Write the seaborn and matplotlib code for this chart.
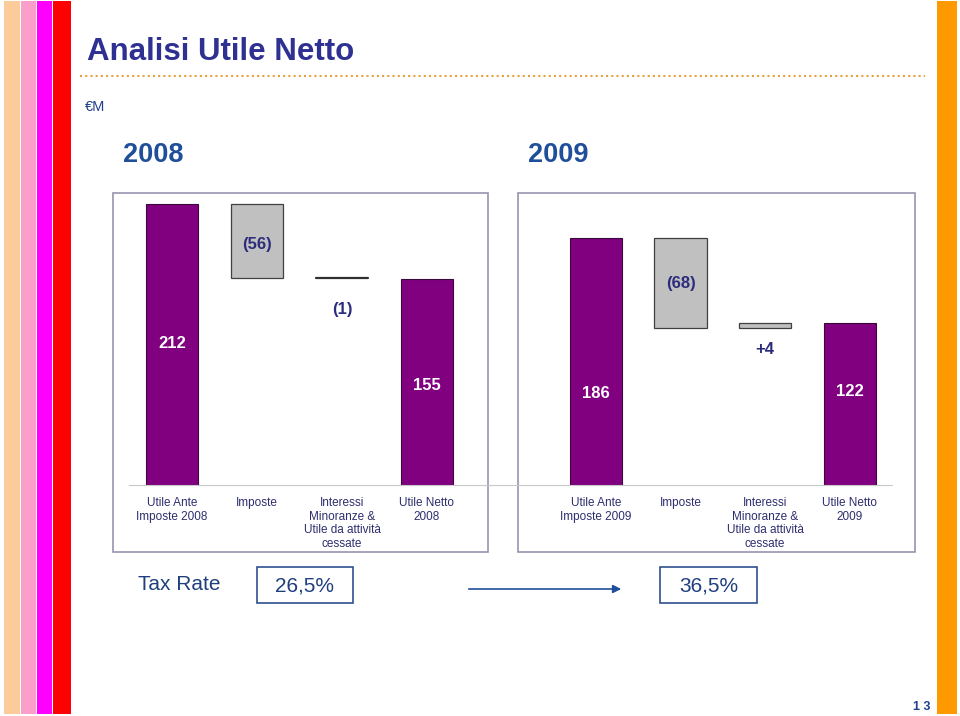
import matplotlib
matplotlib.use("Agg")
import matplotlib.pyplot as plt
from matplotlib.patches import Rectangle, FancyArrowPatch
from matplotlib.lines import Line2D
import seaborn as sns
import pandas as pd
import numpy as np

sns.set_theme(style="white")
plt.rcParams['font.family'] = ['Liberation Sans', 'DejaVu Sans']

# ---- data ----
cats_2008 = ["Utile Ante\nImposte 2008", "Imposte",
             "Interessi\nMinoranze &\nUtile da attività\ncessate", "Utile Netto\n2008"]
cats_2009 = ["Utile Ante\nImposte 2009", "Imposte",
             "Interessi\nMinoranze &\nUtile da attività\ncessate", "Utile Netto\n2009"]
values_2008 = [212, -56, -1, 155]
values_2009 = [186, -68, 4, 122]
labels_2008 = ["212", "(56)", "(1)", "155"]
labels_2009 = ["186", "(68)", "+4", "122"]
is_total = [True, False, False, True]
tax_rate_2008 = "26,5%"
tax_rate_2009 = "36,5%"

W, H = 960, 716
fig = plt.figure(figsize=(W / 100, H / 100), dpi=100)

def fx(px):
    return px / W

def fy(py):
    return 1 - py / H

NAVY = "#2B2C7C"
PURPLE = "#800080"
GREY = "#C0C0C0"
FRAME = "#9A93B0"

# decorative stripes
for x0, x1, c in [(4, 19.5, "#FBCB9A"), (21, 35.5, "#F99FC9"), (37, 51.5, "#FF00FF"),
                  (53, 71, "#FF0000"), (937, 957, "#FF9900")]:
    fig.add_artist(Rectangle((fx(x0), fy(714)), fx(x1 - x0), (714 - 1) / H,
                             transform=fig.transFigure, color=c, lw=0))

# title
fig.text(fx(87), fy(52), "Analisi Utile Netto", fontsize=22.5, fontweight="bold",
         color="#2E3192", va="center", ha="left")
fig.add_artist(Line2D([fx(80), fx(925)], [fy(76), fy(76)], transform=fig.transFigure,
                      color="#E8A040", lw=1.5, linestyle=(0, (1, 1.5))))
fig.text(fx(85), fy(107), "€M", fontsize=10.5, color="#1F3F8F", va="center", ha="left")
fig.text(fx(123), fy(155), "2008", fontsize=19.5, fontweight="bold", color="#1F4E9A",
         va="center", ha="left")
fig.text(fx(528), fy(155), "2009", fontsize=19.5, fontweight="bold", color="#1F4E9A",
         va="center", ha="left")

# panel frames
for x0, x1 in [(113, 488), (518, 915)]:
    fig.add_artist(Rectangle((fx(x0), fy(552)), fx(x1 - x0), (552 - 193) / H,
                             transform=fig.transFigure, fill=False, ec=FRAME, lw=1.2))
fig.add_artist(Line2D([fx(129), fx(892)], [fy(485), fy(485)], transform=fig.transFigure,
                      color="#C8C8C8", lw=0.8))

YMAX = 220

def draw_panel(rect, xlim, cats, values, labels, label_y):
    ax = fig.add_axes(rect)
    # cumulative waterfall positions
    bottoms, heights = [], []
    run = 0
    for v, tot in zip(values, is_total):
        if tot:
            bottoms.append(0)
            heights.append(v)
            run = v
        else:
            new = run + v
            bottoms.append(min(run, new))
            heights.append(abs(v))
            run = new
    df = pd.DataFrame({"cat": cats, "h": [h if t else 0 for h, t in zip(heights, is_total)]})
    sns.barplot(data=df, x="cat", y="h", color=PURPLE, width=0.62, saturation=1,
                edgecolor="#3A0A3A", linewidth=0.8, ax=ax)
    for p in ax.patches:
        if p.get_height() == 0:
            p.set_visible(False)
    for i, (b, h, t) in enumerate(zip(bottoms, heights, is_total)):
        if t:
            continue
        if h <= 1.5:
            ax.plot([i - 0.31, i + 0.31], [b + h, b + h], color="#303030", lw=1.6)
        else:
            ax.bar(i, h, bottom=b, width=0.62, color=GREY, edgecolor="#404040", lw=0.9)
    for i, (lab, yv, t) in enumerate(zip(labels, label_y, is_total)):
        ax.text(i, yv, lab, ha="center", va="center", fontsize=12, fontweight="bold",
                color="white" if t else NAVY)
    ax.set_xlim(*xlim)
    ax.set_ylim(0, YMAX)
    ax.set_xlabel("")
    ax.set_ylabel("")
    ax.set_yticks([])
    ax.tick_params(axis="x", length=0, pad=8.5)
    ax.set_xticks(range(len(cats)))
    ax.set_xticklabels(cats, fontsize=8.5, color="#2E2E6E", linespacing=1.2, va="top")
    for s in ax.spines.values():
        s.set_visible(False)
    ax.patch.set_alpha(0)
    return ax

def val_at(py):
    return (485 - py) / (485 - 193) * YMAX

rect1 = [fx(113), fy(485), fx(488 - 113), (485 - 193) / H]
rect2 = [fx(518), fy(485), fx(915 - 518), (485 - 193) / H]
draw_panel(rect1, (-0.694, 3.718), cats_2008, values_2008, labels_2008,
           [val_at(343), val_at(244), val_at(309), val_at(386)])
draw_panel(rect2, (-0.92, 3.77), cats_2009, values_2009, labels_2009,
           [val_at(393), val_at(283), val_at(350), val_at(391)])

# tax rate row
fig.text(fx(138), fy(585), "Tax Rate", fontsize=15, color="#1F3F7F", va="center", ha="left")
for x0, x1, t in [(257, 353, tax_rate_2008), (660, 757, tax_rate_2009)]:
    fig.add_artist(Rectangle((fx(x0), fy(603)), fx(x1 - x0), (603 - 567) / H,
                             transform=fig.transFigure, fill=False, ec="#2F4F8F", lw=1.2))
    fig.text(fx((x0 + x1) / 2), fy(586), t, fontsize=15, color="#1F3F7F",
             va="center", ha="center")
fig.add_artist(FancyArrowPatch((fx(466), fy(589)), (fx(624), fy(589)),
                               transform=fig.transFigure, arrowstyle="-|>",
                               mutation_scale=12, color="#1F4E9A", lw=1.2))

fig.text(fx(922), fy(707), "1 3", fontsize=9, fontweight="bold", color="#1F3F8F",
         va="center", ha="center")

fig.savefig("out.png", dpi=100)
